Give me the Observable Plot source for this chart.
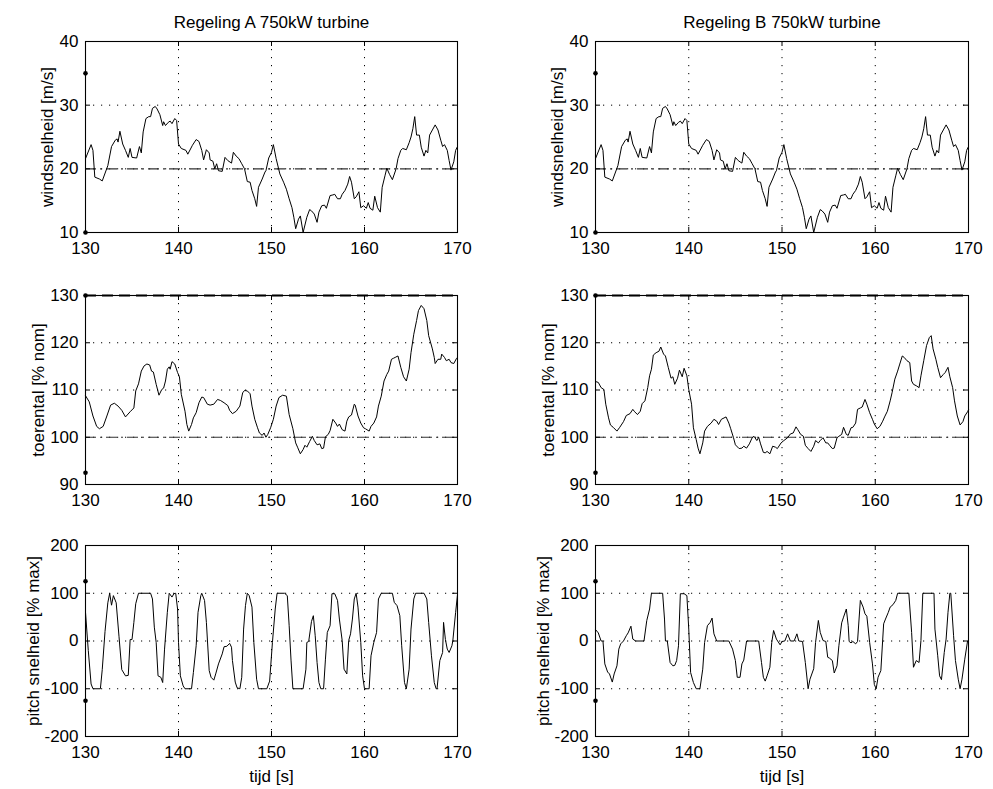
<!DOCTYPE html>
<html><head><meta charset="utf-8">
<script src="https://cdn.jsdelivr.net/npm/d3@7"></script>
<script src="https://cdn.jsdelivr.net/npm/@observablehq/plot@0.6"></script>
<style>
body{margin:0;background:#fff;}
#fig{position:relative;width:993px;height:789px;background:#fff;overflow:hidden;}
#fig svg{position:absolute;}
</style></head><body><div id="fig"></div>
<script>
// ---------- data ----------
const xTicks = [130, 140, 150, 160, 170];
const windTicks = [10, 20, 30, 40];
const rpmTicks = [90, 100, 110, 120, 130];
const pitchTicks = [-200, -100, 0, 100, 200];

const titles = ["Regeling A 750kW turbine", "Regeling B 750kW turbine"];
const yLabels = ["windsnelheid [m/s]", "toerental [% nom]", "pitch snelheid [% max]"];
const xLabel = "tijd [s]";

const windRef = 20, rpmRef = 100, rpmMax = 130;
const windMarks = [35, 10], rpmMarks = [130, 92.5], pitchMarks = [125, -125];

const windT = [130.0,130.6,130.8,131.0,131.5,131.8,132.4,132.8,133.2,133.4,133.5,133.7,134.0,134.3,134.6,134.8,135.0,135.5,135.8,136.0,136.2,136.5,136.8,137.0,137.2,137.5,137.7,138.0,138.3,138.4,138.6,138.9,139.1,139.3,139.6,139.8,140.0,140.3,140.8,141.0,141.5,141.9,142.2,142.5,142.7,143.0,143.3,143.4,143.7,143.9,144.1,144.3,144.7,145.0,145.3,145.7,145.9,146.2,146.5,146.8,147.1,147.4,147.7,147.9,148.2,148.4,148.6,149.0,149.3,149.4,149.7,150.0,150.2,150.5,150.9,151.3,151.6,151.9,152.2,152.4,152.6,152.9,153.1,153.4,153.8,154.1,154.3,154.6,154.9,155.1,155.4,155.7,155.9,156.3,156.6,156.8,157.1,157.4,157.6,157.9,158.2,158.4,158.6,158.9,159.1,159.4,159.6,159.9,160.2,160.4,160.6,160.9,161.1,161.4,161.7,161.9,162.2,162.4,162.7,163.0,163.4,163.6,163.9,164.1,164.5,164.8,165.0,165.2,165.4,165.6,165.9,166.1,166.4,166.6,166.8,167.0,167.3,167.6,167.9,168.2,168.4,168.6,168.9,169.1,169.3,169.6,169.8,170.0];
const windV = [21.6,23.8,22.9,18.7,18.4,18.1,20.5,23.5,24.5,24.7,24.2,25.9,23.9,22.9,21.8,23.2,21.8,21.7,23.5,22.5,25.8,27.9,28.2,28.2,29.5,29.8,29.4,28.5,26.8,27.4,26.8,27.3,27.5,27.1,27.9,27.6,23.9,23.2,22.9,22.3,23.7,24.6,24.3,22.9,21.4,23.0,22.5,21.4,21.2,20.0,20.8,19.7,19.6,21.8,21.3,20.9,22.6,22.0,21.6,20.8,20.0,18.0,17.9,16.6,15.3,14.1,17.1,18.4,19.5,19.7,21.7,22.6,23.8,21.6,19.2,17.9,16.8,15.3,13.9,12.4,10.6,12.1,12.6,10.0,12.4,13.6,13.4,12.9,11.6,13.2,14.2,14.3,13.8,15.8,15.9,16.0,15.3,15.3,16.0,16.6,17.6,18.8,17.9,15.3,15.6,16.4,13.9,14.2,13.8,14.7,13.8,13.5,15.7,13.9,13.2,17.1,18.9,20.1,19.1,18.3,20.0,21.6,22.9,23.2,23.0,24.1,25.0,26.3,28.2,25.3,25.3,23.4,22.0,22.9,22.5,25.3,26.1,26.9,26.1,24.5,23.5,23.8,22.9,21.3,19.8,21.1,22.9,23.5];

const rpmAT = [130.0,130.4,130.8,131.2,131.5,131.9,132.3,132.7,133.1,133.5,133.9,134.3,134.8,135.2,135.4,135.7,136.0,136.3,136.6,136.9,137.1,137.3,137.6,137.9,138.2,138.4,138.6,138.8,139.0,139.1,139.3,139.6,139.9,140.1,140.3,140.7,140.9,141.1,141.4,141.6,141.9,142.2,142.5,142.7,143.1,143.4,143.8,144.2,144.5,144.9,145.3,145.5,145.8,146.2,146.6,146.9,147.1,147.4,147.7,147.9,148.2,148.5,148.7,149.0,149.2,149.4,149.6,149.9,150.2,150.5,150.8,151.2,151.6,151.9,152.3,152.6,152.8,153.1,153.4,153.6,153.8,154.1,154.4,154.6,154.9,155.2,155.4,155.6,155.8,156.1,156.3,156.6,156.9,157.1,157.3,157.6,157.9,158.1,158.3,158.6,158.9,159.0,159.3,159.6,159.9,160.1,160.5,160.7,161.0,161.3,161.5,161.8,162.1,162.4,162.6,162.9,163.1,163.3,163.6,163.9,164.2,164.5,164.8,165.0,165.3,165.6,165.8,166.1,166.4,166.7,166.9,167.3,167.5,167.6,167.9,168.2,168.3,168.6,168.8,169.1,169.3,169.6,169.9,170.0];
const rpmAV = [108.8,107.5,104.5,102.3,101.8,102.3,104.5,106.8,107.2,106.6,105.7,104.3,105.4,106.2,109.8,111.3,114.0,115.1,115.5,115.3,114.0,113.8,111.2,108.9,110.1,110.4,111.9,114.4,114.9,114.4,116.0,115.5,113.7,112.8,109.1,105.5,102.7,101.3,102.7,104.1,105.2,107.3,108.5,108.4,107.0,106.8,107.0,108.0,107.8,107.3,106.7,105.7,105.0,105.5,106.6,109.4,109.9,109.8,109.2,106.6,103.8,102.0,100.9,100.4,100.9,100.0,100.6,102.0,103.8,106.6,108.4,108.9,108.7,104.8,101.8,98.8,97.9,96.5,97.4,98.3,97.9,99.1,100.2,99.3,98.4,98.6,97.6,97.7,100.1,100.6,101.4,103.8,103.0,102.3,102.8,101.6,101.3,103.4,104.3,104.7,107.0,106.8,104.5,103.0,102.0,101.8,101.3,102.3,103.0,104.3,106.6,108.7,111.9,113.3,114.0,116.5,116.7,116.9,117.2,114.8,112.8,111.9,114.4,117.9,121.8,124.7,126.8,127.9,127.2,124.7,121.5,118.7,116.9,115.6,116.5,116.5,117.6,116.9,116.2,116.5,115.8,115.6,116.7,116.9];

const rpmBT = [130.0,130.3,130.6,130.9,131.1,131.4,131.6,131.9,132.3,132.6,133.0,133.3,133.7,134.0,134.2,134.5,134.8,135.0,135.3,135.6,135.8,136.0,136.2,136.5,136.8,137.0,137.3,137.5,137.8,138.1,138.3,138.5,138.8,139.0,139.3,139.5,139.8,140.0,140.3,140.5,140.8,141.0,141.2,141.5,141.7,142.0,142.4,142.7,143.0,143.2,143.5,144.0,144.3,144.5,144.8,145.0,145.4,145.7,145.9,146.2,146.5,146.8,147.0,147.3,147.5,147.7,148.0,148.2,148.4,148.7,149.0,149.3,149.5,149.9,150.2,150.6,150.9,151.2,151.5,151.7,152.0,152.3,152.5,152.8,153.1,153.4,153.6,153.9,154.1,154.4,154.7,154.9,155.1,155.4,155.6,155.9,156.1,156.4,156.6,156.9,157.1,157.4,157.6,157.9,158.1,158.4,158.6,158.9,159.1,159.4,159.7,159.9,160.2,160.5,160.8,161.0,161.3,161.6,161.8,162.1,162.4,162.6,162.9,163.1,163.4,163.7,163.9,164.1,164.4,164.7,164.9,165.2,165.5,165.8,166.0,166.2,166.5,166.7,167.0,167.3,167.5,167.8,168.0,168.3,168.5,168.8,169.1,169.4,169.6,169.9,170.0];
const rpmBV = [111.8,111.6,110.5,110.1,107.0,104.1,102.6,102.1,101.3,102.1,103.3,104.6,105.0,105.9,105.4,104.8,105.5,107.1,107.7,110.5,113.0,114.4,117.4,117.9,118.2,119.1,117.6,117.2,114.8,112.5,112.8,111.2,112.5,114.2,112.8,114.6,113.0,110.1,107.0,102.0,99.5,97.7,96.5,98.8,101.3,102.3,103.0,103.8,103.4,102.7,103.8,104.3,103.0,101.8,99.9,98.4,97.6,97.7,98.1,97.7,98.6,99.9,100.2,99.3,100.0,98.6,96.8,96.7,97.0,96.5,98.1,97.9,97.6,98.8,99.3,99.9,100.7,100.9,102.2,101.6,100.6,100.2,98.3,97.6,97.0,98.1,99.3,98.8,99.3,99.9,98.8,98.8,98.3,97.6,97.7,99.9,100.2,100.6,102.1,100.6,100.4,102.0,102.1,103.0,105.9,106.2,106.4,108.0,107.0,105.2,103.8,102.8,101.8,102.3,103.4,104.3,105.5,107.7,109.4,112.3,114.0,115.3,117.2,116.9,116.2,115.8,111.9,111.2,110.9,110.5,113.0,116.2,119.4,121.1,121.5,118.7,116.5,114.8,112.6,113.3,113.7,114.8,112.8,110.5,107.7,104.5,102.6,103.3,104.5,105.4,105.8];

const pitchAT = [130.0,130.3,130.6,130.8,131.6,131.8,132.1,132.4,132.6,132.8,133.0,133.3,133.6,133.9,134.3,134.6,134.8,135.0,135.2,135.4,135.7,137.0,137.2,137.4,137.6,137.8,138.1,138.3,138.5,138.8,139.0,139.3,139.5,139.7,139.9,140.0,140.2,140.5,140.7,141.4,141.6,141.9,142.1,142.4,142.5,142.8,143.0,143.3,143.5,143.8,144.0,144.3,144.7,144.9,145.2,145.5,145.7,145.8,146.1,146.3,146.6,146.8,147.0,147.2,147.4,147.6,147.9,148.1,148.4,148.6,149.5,149.8,150.1,150.4,150.6,151.4,151.7,151.9,152.1,152.3,153.4,153.7,153.8,154.0,154.3,154.5,154.7,154.9,155.1,155.3,155.6,155.8,156.0,156.3,156.5,156.8,157.1,157.3,157.6,157.8,158.1,158.3,158.5,158.7,158.9,159.1,159.3,159.6,159.8,160.0,160.5,160.7,161.0,161.3,161.5,161.8,163.0,163.2,163.5,163.8,164.0,164.3,164.5,164.8,165.0,165.3,165.5,166.4,166.7,166.9,167.2,167.5,167.7,167.8,168.1,168.4,168.5,168.7,168.9,169.1,169.4,169.5,169.8,170.0];
const pitchAV = [60,-20,-90,-100,-100,-60,20,80,100,75,95,80,10,-60,-73,-72,3,3,39,78,100,100,88,29,-3,-73,-76,-87,-17,60,100,92,99,100,67,-3,-73,-94,-100,-100,-66,-10,60,95,100,85,39,-62,-76,-82,-69,-48,-27,-12,-11,-5,-13,-41,-86,-98,-100,-76,25,74,100,95,71,-3,-80,-100,-100,-84,-3,67,100,100,95,32,-40,-100,-100,-59,-3,-1,41,53,11,-45,-87,-100,-100,-38,18,32,99,99,85,46,1,-59,-69,1,15,46,88,100,71,-3,-73,-100,-100,-31,-3,18,88,100,100,81,74,53,-10,-87,-100,-59,25,88,100,100,88,39,-31,-87,-100,-100,-41,-24,39,3,-17,-24,-10,1,60,97];

const pitchBT = [130.0,130.3,130.6,130.8,131.0,131.3,131.5,131.8,132.0,132.3,132.5,132.7,133.0,133.3,133.5,133.8,134.0,134.3,135.2,135.5,135.8,136.0,137.2,137.4,137.5,137.7,138.0,138.3,138.5,138.7,138.9,139.1,139.5,139.8,140.0,140.2,140.5,140.8,141.2,141.5,141.7,142.0,142.3,142.5,142.7,143.0,144.3,144.7,145.0,145.2,145.5,145.7,145.9,146.2,147.5,147.8,148.0,148.2,148.4,148.7,148.9,149.1,149.4,149.8,150.0,150.3,150.6,150.9,151.3,151.6,151.8,152.2,152.5,152.8,153.0,153.4,153.6,153.9,154.1,154.4,154.7,154.9,155.1,155.4,155.6,155.9,156.1,156.4,156.6,156.9,157.1,157.2,157.4,157.6,157.9,158.1,158.4,158.7,158.9,159.1,159.4,159.7,159.9,160.1,160.3,160.6,160.9,161.1,161.4,161.6,161.9,162.2,162.4,163.6,163.9,164.1,164.4,164.7,164.9,165.1,166.3,166.4,166.7,166.9,167.1,167.4,167.6,167.8,168.0,168.1,168.4,168.6,168.9,169.1,169.3,169.6,169.9,170.0];
const pitchBV = [24,17,0,0,-48,-65,-69,-86,-69,-52,-17,-6,0,11,17,31,4,0,0,43,67,100,100,46,0,0,-45,-52,-51,-41,-10,99,99,95,25,-66,-87,-100,-100,-59,-3,32,39,48,15,0,0,-17,-41,-76,-76,-48,-40,0,0,-45,-76,-84,-73,-55,-3,22,4,-8,-1,0,15,0,0,15,0,-1,-45,-100,-80,-58,-3,43,18,1,-1,-34,-36,-41,-67,-52,-10,38,50,67,32,-1,-4,-1,-6,-1,85,71,57,52,-3,-48,-91,-100,-76,-62,36,46,60,71,76,85,100,100,18,-55,-41,-45,1,100,100,25,-31,-73,-81,-24,4,60,100,100,11,-41,-80,-100,-80,-38,0,1];

// ---------- drawing ----------
const FONT = "'Liberation Sans', Arial, Helvetica, sans-serif";
const FS = 17;
const fig = document.getElementById("fig");
const toData = (t, v) => t.map((d, i) => ({t: d, v: v[i]}));

function panel(o) {
  const fw = o.width - o.ml - o.mr, fh = o.height - o.mt - o.mb;
  const inner = o.yTicks.slice(1, -1);
  const marks = [
    Plot.gridX(xTicks.slice(1, -1), {stroke: "#000", strokeOpacity: 1, strokeDasharray: "1.2,6.8", strokeWidth: 1}),
    Plot.gridY(inner, {stroke: "#000", strokeOpacity: 1, strokeDasharray: "1.2,6.8", strokeWidth: 1})
  ];
  if (o.dashDot != null) marks.push(Plot.ruleY([o.dashDot], {stroke: "#333", strokeWidth: 1.2, strokeDasharray: "11,4,2,4"}));
  marks.push(Plot.line(toData(o.t, o.v), {x: "t", y: "v", stroke: "#000", strokeWidth: 1}));
  marks.push(Plot.frame({stroke: "#000", strokeWidth: 1.1}));
  if (o.dash != null) marks.push(Plot.ruleY([o.dash], {stroke: "#000", strokeWidth: 2.2, strokeDasharray: "11,6"}));
  marks.push(Plot.tickX(xTicks, {x: d => d, insetTop: fh - 5, stroke: "#000"}));
  marks.push(Plot.tickX(xTicks, {x: d => d, insetBottom: fh - 5, stroke: "#000"}));
  marks.push(Plot.tickY(o.yTicks, {y: d => d, insetRight: fw - 5, stroke: "#000"}));
  marks.push(Plot.tickY(o.yTicks, {y: d => d, insetLeft: fw - 5, stroke: "#000"}));
  marks.push(Plot.dot(o.markers, {x: () => 130, y: d => d, r: 2.3, fill: "#000", stroke: "none"}));
  marks.push(Plot.axisX({ticks: xTicks, tickSize: 0, tickPadding: 9, tickFormat: d => String(d), label: null}));
  marks.push(Plot.axisY({ticks: o.yTicks, tickSize: 0, tickPadding: 7, tickFormat: d => String(d),
    label: o.yLabel, labelAnchor: "center", labelArrow: "none", labelOffset: o.labelOffset}));
  if (o.title) marks.push(Plot.text([o.title], {text: d => d, frameAnchor: "top", dy: -19, lineAnchor: "middle", fontSize: FS}));
  if (o.xLabel) marks.push(Plot.text([o.xLabel], {text: d => d, frameAnchor: "bottom", dy: 40, lineAnchor: "middle", fontSize: FS}));
  const svg = Plot.plot({
    width: o.width, height: o.height,
    marginLeft: o.ml, marginRight: o.mr, marginTop: o.mt, marginBottom: o.mb,
    x: {domain: [130, 170], axis: null},
    y: {domain: o.yDomain, axis: null},
    style: {fontFamily: FONT, fontSize: FS + "px", color: "#000", background: "transparent", overflow: "visible"},
    marks
  });
  svg.style.left = o.left + "px";
  svg.style.top = o.top + "px";
  fig.appendChild(svg);
}

const cols = [
  {left: 0, width: 490, ml: 85, mr: 33},
  {left: 490, width: 503, ml: 105, mr: 25}
];
const rows = [
  {top: 0, height: 270, mt: 41, mb: 38, yDomain: [10, 40], yTicks: windTicks, yLabel: yLabels[0], dashDot: windRef, markers: windMarks, labelOffset: 45},
  {top: 270, height: 255, mt: 25, mb: 41, yDomain: [90, 130], yTicks: rpmTicks, yLabel: yLabels[1], dashDot: rpmRef, dash: rpmMax, markers: rpmMarks, labelOffset: 54},
  {top: 525, height: 264, mt: 20, mb: 53, yDomain: [-200, 200], yTicks: pitchTicks, yLabel: yLabels[2], markers: pitchMarks, labelOffset: 59}
];
const series = [
  [[windT, windV], [windT, windV]],
  [[rpmAT, rpmAV], [rpmBT, rpmBV]],
  [[pitchAT, pitchAV], [pitchBT, pitchBV]]
];
rows.forEach((r, ri) => cols.forEach((c, ci) => {
  panel({...c, ...r, t: series[ri][ci][0], v: series[ri][ci][1],
    title: ri === 0 ? titles[ci] : null, xLabel: ri === 2 ? xLabel : null});
}));
</script></body></html>
